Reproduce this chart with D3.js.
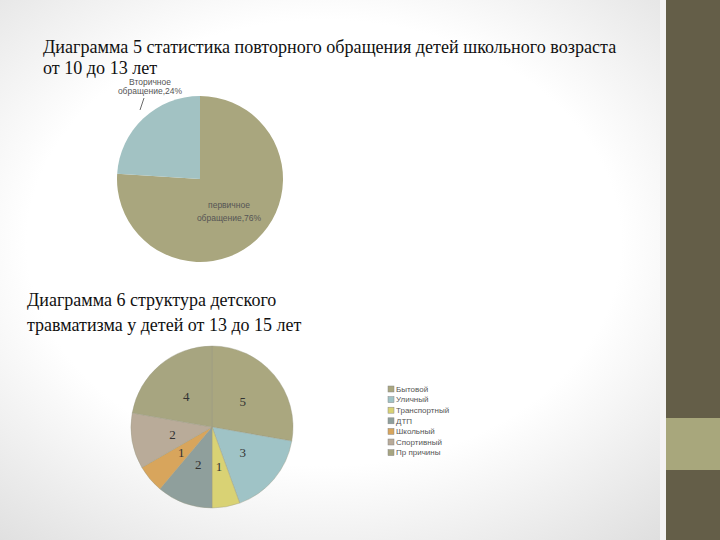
<!DOCTYPE html>
<html><head><meta charset="utf-8">
<script src="https://cdn.jsdelivr.net/npm/d3@7"></script>
<style>html,body{margin:0;padding:0;overflow:hidden}
.serif{font-family:"Liberation Serif","Times New Roman","DejaVu Serif",serif}
.sans{font-family:"Liberation Sans",Arial,"DejaVu Sans",sans-serif}
</style>
</head><body>
<script>
// Chart 5 data
const pie1Labels = ["первичное обращение,76%", "Вторичное обращение,24%"];
const pie1Values = [76, 24];
const pie1Colors = ["#a9a67e", "#a2c2c3"];
// Chart 6 data
const pie2Categories = ["Бытовой", "Уличный", "Транспортный", "ДТП", "Школьный", "Спортивный", "Пр причины"];
const pie2Values = [5, 3, 1, 2, 1, 2, 4];
const pie2Colors = ["#aaa77f", "#9fc3c6", "#d9d274", "#8f9f9c", "#d8a55c", "#b9ab99", "#a7a580"];

const W = 720, H = 540;
const svg = d3.select("body").append("svg").attr("width", W).attr("height", H);
const defs = svg.append("defs");
const rg = defs.append("radialGradient").attr("id", "bg").attr("cx", "45%").attr("cy", "45%").attr("r", "75%");
rg.append("stop").attr("offset", "0.55").attr("stop-color", "#ffffff");
rg.append("stop").attr("offset", "1").attr("stop-color", "#dcdcdc");
svg.append("rect").attr("width", W).attr("height", H).attr("fill", "url(#bg)");

// right decorative bar
svg.append("rect").attr("x", 660).attr("y", 0).attr("width", 6).attr("height", H).attr("fill", "#f4f3f3");
svg.append("rect").attr("x", 666).attr("y", 0).attr("width", 54).attr("height", H).attr("fill", "#645e48");
svg.append("rect").attr("x", 666).attr("y", 418).attr("width", 54).attr("height", 52).attr("fill", "#a8a77c");

// Titles
const t1 = svg.append("text").attr("class", "serif").attr("font-size", 18.1).attr("fill", "#111");
t1.append("tspan").attr("x", 43).attr("y", 53).text("Диаграмма 5 статистика повторного обращения детей школьного возраста");
t1.append("tspan").attr("x", 43).attr("y", 74).text("от 10 до 13 лет");
const t2 = svg.append("text").attr("class", "serif").attr("font-size", 18).attr("fill", "#111");
t2.append("tspan").attr("x", 27).attr("y", 306).text("Диаграмма 6 структура детского");
t2.append("tspan").attr("x", 27).attr("y", 331).text("травматизма у детей от 13 до 15 лет");

// Pie 1
const pie = d3.pie().sort(null).value(d => d);
const arc1 = d3.arc().innerRadius(0).outerRadius(83);
const g1 = svg.append("g").attr("transform", "translate(200,179)");
g1.selectAll("path").data(pie(pie1Values)).join("path")
  .attr("d", arc1).attr("fill", (d, i) => pie1Colors[i]);
const lab1 = g1.append("text").attr("class", "sans").attr("font-size", 8.5).attr("fill", "#555").attr("text-anchor", "middle");
lab1.append("tspan").attr("x", 29).attr("y", 29).text("первичное");
lab1.append("tspan").attr("x", 29).attr("y", 42).text(pie1Labels[0].replace("первичное ", ""));
const lab2 = g1.append("text").attr("class", "sans").attr("font-size", 8.5).attr("fill", "#555").attr("text-anchor", "middle");
lab2.append("tspan").attr("x", -50).attr("y", -94).text("Вторичное");
lab2.append("tspan").attr("x", -50).attr("y", -85).text(pie1Labels[1].replace("Вторичное ", ""));
g1.append("line").attr("x1", -56).attr("y1", -81).attr("x2", -60).attr("y2", -69).attr("stroke", "#444").attr("stroke-width", 0.8);

// Pie 2
const arc2 = d3.arc().innerRadius(0).outerRadius(81);
const g2 = svg.append("g").attr("transform", "translate(212,427)");
const arcs2 = pie(pie2Values);
g2.selectAll("path").data(arcs2).join("path")
  .attr("d", arc2).attr("fill", (d, i) => pie2Colors[i])
  .attr("stroke", "#9a9a84").attr("stroke-width", 0.4);
const labArc = d3.arc().innerRadius(0).outerRadius(80);
g2.selectAll("text.v").data(arcs2).join("text").attr("class", "v serif")
  .attr("transform", d => { const c = labArc.centroid(d); return `translate(${c[0]},${c[1]})`; })
  .attr("text-anchor", "middle").attr("dy", "0.35em")
  .attr("font-size", 13).attr("fill", "#333")
  .text(d => d.data);

// Legend
const leg = svg.append("g").attr("transform", "translate(388,389)");
pie2Categories.forEach((c, i) => {
  const gy = i * 10.6;
  leg.append("rect").attr("x", 0).attr("y", gy - 3).attr("width", 6).attr("height", 6)
    .attr("fill", pie2Colors[i]).attr("stroke", "#888").attr("stroke-width", 0.5);
  leg.append("text").attr("class", "sans").attr("x", 8).attr("y", gy).attr("dy", "0.35em")
    .attr("font-size", 8).attr("fill", "#555").text(c);
});
</script>
</body></html>
